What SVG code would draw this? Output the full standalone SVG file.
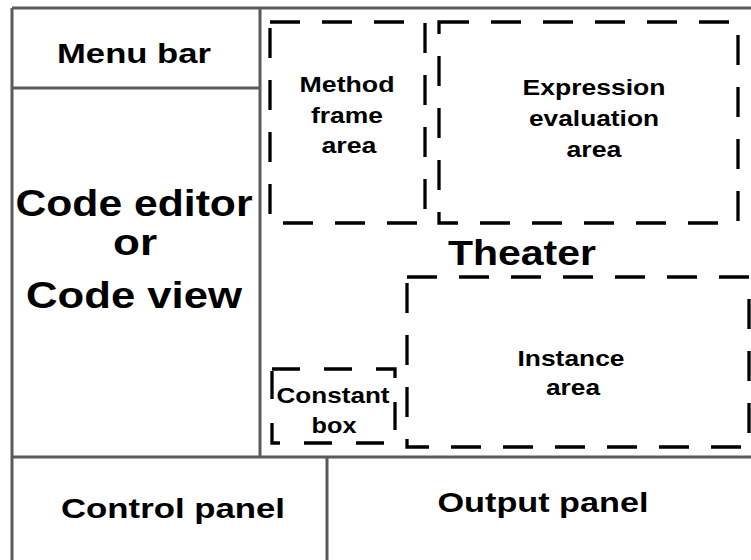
<svg xmlns="http://www.w3.org/2000/svg" width="751" height="560" viewBox="0 0 751 560">
<style>
.frame{stroke:#5a5a5a;stroke-width:3;fill:none}
.dash{stroke:#000;stroke-width:3.3;fill:none;stroke-dasharray:30 22}
text{font-family:"Liberation Sans",Arial,sans-serif;font-weight:bold;fill:#000;text-anchor:middle}
</style>
<rect x="0" y="0" width="751" height="560" fill="#fff"/>
<g id="frame-lines">
<line class="frame" x1="12" y1="8" x2="751" y2="8"/>
<line class="frame" x1="12" y1="8" x2="12" y2="560"/>
<line class="frame" x1="260" y1="8" x2="260" y2="457"/>
<line class="frame" x1="12" y1="457" x2="751" y2="457"/>
</g>
<g id="menu-bar">
<line class="frame" x1="12" y1="88" x2="260" y2="88"/>
<text x="134" y="63" font-size="28" textLength="154" lengthAdjust="spacingAndGlyphs">Menu bar</text>
</g>
<g id="code-editor">
<text x="134" y="216" font-size="37" textLength="237" lengthAdjust="spacingAndGlyphs">Code editor</text>
<text x="135" y="255" font-size="37" textLength="44" lengthAdjust="spacingAndGlyphs">or</text>
<text x="134" y="308" font-size="37" textLength="216" lengthAdjust="spacingAndGlyphs">Code view</text>
</g>
<g id="theater">
<text x="522" y="265" font-size="35" textLength="148" lengthAdjust="spacingAndGlyphs">Theater</text>
</g>
<g id="method-frame-area">
<rect class="dash" x="270" y="22" width="155" height="201"/>
<text x="347" y="92" font-size="22" textLength="95" lengthAdjust="spacingAndGlyphs">Method</text>
<text x="347" y="123" font-size="22" textLength="72" lengthAdjust="spacingAndGlyphs">frame</text>
<text x="349" y="153" font-size="22" textLength="55" lengthAdjust="spacingAndGlyphs">area</text>
</g>
<g id="expression-evaluation-area">
<rect class="dash" x="439" y="22" width="299" height="201"/>
<text x="594" y="95" font-size="22" textLength="143" lengthAdjust="spacingAndGlyphs">Expression</text>
<text x="594" y="126" font-size="22" textLength="130" lengthAdjust="spacingAndGlyphs">evaluation</text>
<text x="594" y="157" font-size="22" textLength="55" lengthAdjust="spacingAndGlyphs">area</text>
</g>
<g id="instance-area">
<rect class="dash" x="407" y="277" width="342" height="170"/>
<text x="571" y="366" font-size="22" textLength="107" lengthAdjust="spacingAndGlyphs">Instance</text>
<text x="573" y="395" font-size="22" textLength="54" lengthAdjust="spacingAndGlyphs">area</text>
</g>
<g id="constant-box">
<rect class="dash" x="272" y="369" width="123" height="74" style="stroke-dasharray:28 24"/>
<text x="333" y="403" font-size="22" textLength="113" lengthAdjust="spacingAndGlyphs">Constant</text>
<text x="334" y="433" font-size="22" textLength="45" lengthAdjust="spacingAndGlyphs">box</text>
</g>
<g id="control-panel">
<line class="frame" x1="327" y1="457" x2="327" y2="560"/>
<text x="173" y="518" font-size="28" textLength="224" lengthAdjust="spacingAndGlyphs">Control panel</text>
</g>
<g id="output-panel">
<text x="543" y="512" font-size="28" textLength="211" lengthAdjust="spacingAndGlyphs">Output panel</text>
</g>
</svg>
